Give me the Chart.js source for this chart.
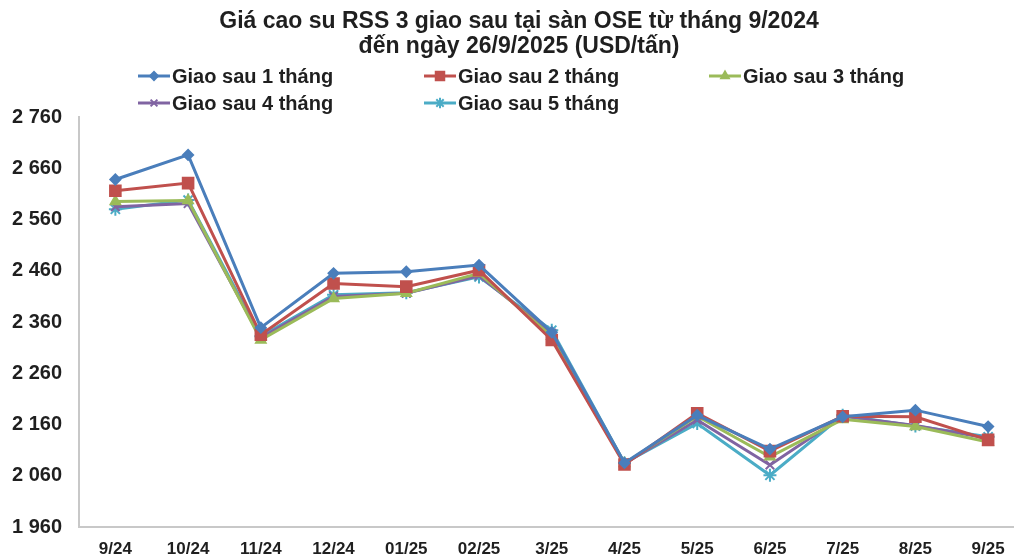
<!DOCTYPE html>
<html>
<head>
<meta charset="utf-8">
<script src="https://cdn.jsdelivr.net/npm/chart.js@4.4.1/dist/chart.umd.min.js"></script>
<style>
  html, body { margin: 0; padding: 0; background: #fff; overflow: hidden; }
  #wrap { width: 1014px; height: 558px; overflow: hidden; position: relative; }
  #box { width: 1034px; height: 558px; }
</style>
</head>
<body>
<div id="wrap"><div id="box"><canvas id="rssChart"></canvas></div></div>
<script>
const months = ['9/24', '10/24', '11/24', '12/24', '01/25', '02/25', '3/25', '4/25', '5/25', '6/25', '7/25', '8/25', '9/25'];
const titleLines = ['Giá cao su RSS 3 giao sau tại sàn OSE từ tháng 9/2024', 'đến ngày 26/9/2025 (USD/tấn)'];
const seriesNames = ['Giao sau 1 tháng', 'Giao sau 2 tháng', 'Giao sau 3 tháng', 'Giao sau 4 tháng', 'Giao sau 5 tháng'];

const gs1 = [2638, 2686, 2349, 2455, 2458, 2471, 2340, 2085, 2178, 2112, 2175, 2188, 2156];
const gs2 = [2616, 2631, 2335, 2435, 2429, 2461, 2325, 2082, 2182, 2108, 2176, 2175, 2130];
const gs3 = [2595, 2597, 2325, 2406, 2416, 2455, 2332, 2084, 2176, 2097, 2170, 2156, 2126];
const gs4 = [2585, 2591, 2329, 2410, 2416, 2450, 2338, 2084, 2169, 2081, 2176, 2158, 2133];
const gs5 = [2580, 2598, 2332, 2413, 2417, 2448, 2344, 2085, 2162, 2061, 2178, 2157, 2136];

const yTicks = { min: 1960, max: 2760, step: 100 };

const COLORS = ['#4a7ebb', '#c0504d', '#9bbb59', '#8064a2', '#4bacc6'];
const MARKERS = [
  { style: 'rectRot', r: 5 },
  { style: 'rect', r: 7.5 },
  { style: 'triangle', r: 5.5 },
  { style: 'crossRot', r: 6 },
  { style: 'star', r: 6.5 }
];
const FONT = "'Liberation Sans', Arial, sans-serif";
const TXT = '#1f1f1f';

const datasets = [gs1, gs2, gs3, gs4, gs5].map((data, i) => ({
  label: seriesNames[i],
  data,
  borderColor: COLORS[i],
  backgroundColor: COLORS[i],
  borderWidth: 3,
  pointStyle: MARKERS[i].style,
  pointRadius: MARKERS[i].r,
  pointBorderWidth: 2,
  pointBorderColor: COLORS[i],
  pointBackgroundColor: COLORS[i],
  tension: 0
}));

// title + 3-column legend drawn like the Excel original
const headerPlugin = {
  id: 'header',
  afterDraw(chart) {
    const ctx = chart.ctx;
    ctx.save();
    ctx.fillStyle = TXT;
    ctx.textAlign = 'center';
    ctx.textBaseline = 'middle';
    ctx.font = 'bold 23px ' + FONT;
    ctx.fillText(titleLines[0], 519, 22);
    ctx.fillText(titleLines[1], 519, 47);

    const cols = [138, 424, 709];
    const rows = [76, 103];
    ctx.textAlign = 'left';
    ctx.font = 'bold 20px ' + FONT;
    seriesNames.forEach((name, i) => {
      const x = cols[i % 3], y = rows[Math.floor(i / 3)];
      ctx.strokeStyle = COLORS[i];
      ctx.lineWidth = 3;
      ctx.beginPath();
      ctx.moveTo(x, y);
      ctx.lineTo(x + 32, y);
      ctx.stroke();
      ctx.fillStyle = COLORS[i];
      ctx.lineWidth = 2;
      Chart.helpers.drawPoint(ctx, { pointStyle: MARKERS[i].style, radius: MARKERS[i].r * 0.8, rotation: 0, borderWidth: 2 }, x + 16, y);
      ctx.fillStyle = TXT;
      ctx.fillText(name, x + 34, y + 1);
    });
    ctx.restore();
  }
};

new Chart(document.getElementById('rssChart'), {
  type: 'line',
  data: { labels: months, datasets },
  plugins: [headerPlugin],
  options: {
    responsive: true,
    maintainAspectRatio: false,
    animation: false,
    layout: { padding: { top: 117, right: 2, left: 0, bottom: 0 } },
    plugins: { legend: { display: false }, title: { display: false }, tooltip: { enabled: false } },
    scales: {
      x: {
        offset: true,
        grid: { display: false, drawTicks: false },
        border: { display: true, color: '#c8c8c8', width: 2 },
        ticks: { color: TXT, font: { size: 17, weight: 'bold', family: FONT }, padding: 12, maxRotation: 0, autoSkip: false },
        afterFit: s => { s.height = 31; }
      },
      y: {
        min: yTicks.min,
        max: yTicks.max,
        grid: { display: false, drawTicks: false },
        border: { display: true, color: '#c8c8c8', width: 2 },
        ticks: {
          stepSize: yTicks.step,
          color: TXT,
          font: { size: 20, weight: 'bold', family: FONT },
          padding: 17,
          callback: v => String(v).replace(/\B(?=(\d{3})+(?!\d))/g, ' ')
        },
        afterFit: s => { s.width = 79; }
      }
    }
  }
});
</script>
</body>
</html>
